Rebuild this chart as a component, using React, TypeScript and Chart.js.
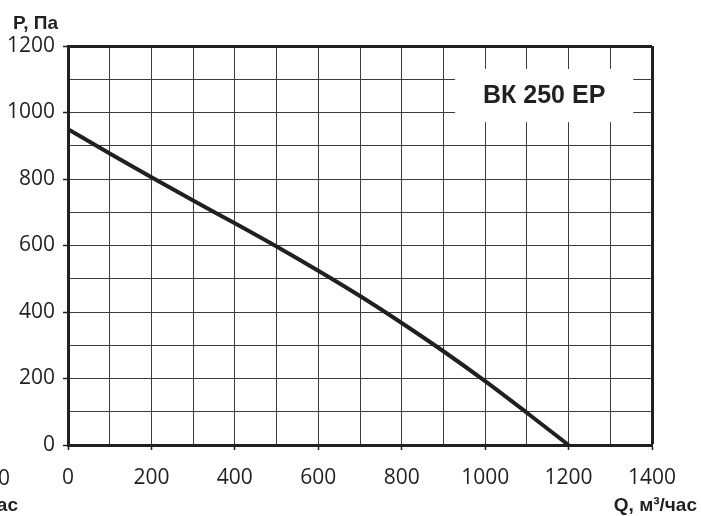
import React, { useEffect, useRef } from 'react';
import { Chart, registerables } from 'chart.js';

Chart.register(...registerables);

// Air flow Q, m³/h
const flowValues = [0, 100, 200, 300, 400, 500, 600, 700, 800, 900, 1000, 1100, 1200];
// Pressure P, Pa
const pressureValues = [950, 877, 805, 735, 667, 597, 524, 448, 367, 282, 192, 97, 0];

const xMin = 0;
const xMax = 1400;
const yMin = 0;
const yMax = 1200;
const gridStep = 100;
const labelStep = 200;

const modelLabel = 'ВК 250 ЕР';
const yTitle = 'P, Па';
const xTitle = 'Q, м³/час';
const neighbourTick = '0';

const INK = '#231f20';
const GRID = '#3c3c3c';
const TICK_FONT = { family: '"Open Sans", sans-serif', size: 21 };
const TITLE_FONT = 'bold 19px "Liberation Sans", Arial, sans-serif';

const extrasPlugin = {
  id: 'extras',
  beforeDatasetsDraw(chart: any) {
    const { ctx, scales } = chart;
    const x = scales.x;
    const y = scales.y;
    // white label box covering the grid
    const bx1 = x.getPixelForValue(928);
    const bx2 = x.getPixelForValue(1355);
    const by1 = y.getPixelForValue(1131);
    const by2 = y.getPixelForValue(971);
    ctx.save();
    ctx.fillStyle = '#ffffff';
    ctx.fillRect(bx1, by1, bx2 - bx1, by2 - by1);
    ctx.fillStyle = INK;
    ctx.font = 'bold 25px "Liberation Sans", Arial, sans-serif';
    ctx.textAlign = 'center';
    ctx.textBaseline = 'middle';
    ctx.fillText(modelLabel, (bx1 + bx2) / 2, (by1 + by2) / 2 + 1);
    ctx.restore();
  },
  afterDraw(chart: any) {
    const { ctx } = chart;
    ctx.save();
    ctx.fillStyle = INK;
    ctx.font = TITLE_FONT;
    ctx.textBaseline = 'alphabetic';
    ctx.textAlign = 'left';
    ctx.fillText(yTitle, 13, 29);
    ctx.textAlign = 'right';
    ctx.fillText(xTitle, 697, 511);
    // cut-off remnants of the neighbouring panel
    ctx.fillText(xTitle, 18, 511);
    ctx.font = `${TICK_FONT.size}px ${TICK_FONT.family}`;
    ctx.fillText(neighbourTick, 10, 485);
    ctx.restore();
  },
};

export default function App() {
  const canvasRef = useRef<HTMLCanvasElement | null>(null);

  useEffect(() => {
    if (!canvasRef.current) return;
    const data = flowValues.map((q, i) => ({ x: q, y: pressureValues[i] }));
    const chart = new Chart(canvasRef.current, {
      type: 'line',
      data: {
        datasets: [
          {
            data,
            borderColor: INK,
            borderWidth: 4,
            pointRadius: 0,
            fill: false,
            cubicInterpolationMode: 'monotone',
          } as any,
        ],
      },
      plugins: [extrasPlugin],
      options: {
        responsive: false,
        animation: false,
        devicePixelRatio: 1,
        layout: { padding: { top: 46, right: 49, left: 0, bottom: 0 } },
        plugins: {
          legend: { display: false },
          tooltip: { enabled: false },
          title: { display: false },
        },
        scales: {
          x: {
            type: 'linear',
            min: xMin,
            max: xMax,
            afterFit: (s: any) => {
              s.height = 71;
            },
            ticks: {
              stepSize: gridStep,
              autoSkip: false,
              maxRotation: 0,
              color: INK,
              font: TICK_FONT,
              padding: 15,
              callback: (v: any) => (Number(v) % labelStep === 0 ? String(v) : ''),
            },
            grid: {
              color: (c: any) => (c.tick && c.tick.value === xMax ? INK : GRID),
              lineWidth: (c: any) => (c.tick && c.tick.value === xMax ? 3 : 1),
              tickColor: (c: any) => (c.tick && c.tick.value % labelStep === 0 ? INK : 'rgba(0,0,0,0)'),
              tickLength: 5,
              tickWidth: 1.5,
              drawTicks: true,
            },
            border: { display: true, width: 3, color: INK },
          },
          y: {
            type: 'linear',
            min: yMin,
            max: yMax,
            afterFit: (s: any) => {
              s.width = 68;
            },
            ticks: {
              stepSize: gridStep,
              autoSkip: false,
              color: INK,
              font: TICK_FONT,
              padding: 8,
              callback: (v: any) => (Number(v) % labelStep === 0 ? String(v) : ''),
            },
            grid: {
              color: (c: any) => (c.tick && c.tick.value === yMax ? INK : GRID),
              lineWidth: (c: any) => (c.tick && c.tick.value === yMax ? 3 : 1),
              tickColor: (c: any) => (c.tick && c.tick.value % labelStep === 0 ? INK : 'rgba(0,0,0,0)'),
              tickLength: 5,
              tickWidth: 1.5,
              drawTicks: true,
            },
            border: { display: true, width: 3, color: INK },
          },
        },
      } as any,
    });
    return () => chart.destroy();
  }, []);

  return (
    <div style={{ position: 'absolute', left: 0, top: 0, width: 701, height: 516, background: '#fff' }}>
      <canvas ref={canvasRef} width={701} height={516} />
    </div>
  );
}
